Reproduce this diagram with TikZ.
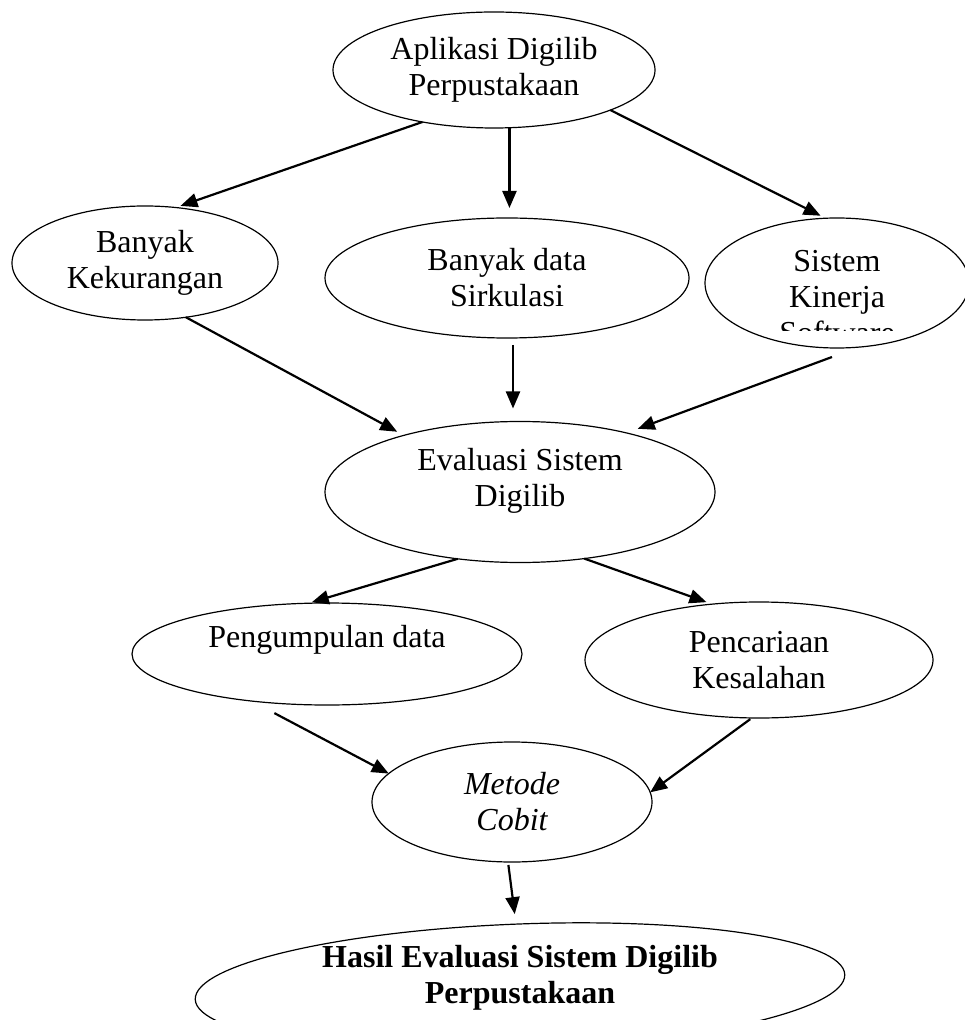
\documentclass[tikz,border=0pt]{standalone}
\usepackage{fontspec}
\setmainfont{Liberation Serif}
\usetikzlibrary{shapes.geometric,arrows.meta}
\begin{document}
\begin{tikzpicture}[x=0.5pt,y=-0.5pt,
  ell/.style={draw, ellipse, line width=0.6pt, inner sep=0pt, outer sep=0pt},
  txt/.style={font=\fontsize{16pt}{18pt}\selectfont, align=center, inner sep=0pt},
  arr/.style={-{Triangle[length=8.5pt,width=7pt]}, line width=1.1pt}]
\useasboundingbox (0,0) rectangle (964,1020);
% ellipses
\node[ell, txt, minimum width=161pt, minimum height=58pt] (A) at (494,70) {Aplikasi Digilib\\Perpustakaan};
\node[ell, txt, minimum width=133pt, minimum height=57pt] (B) at (145,263) {Banyak\\Kekurangan};
\node[ell, txt, minimum width=182pt, minimum height=60pt] (C) at (507,278) {Banyak data\\Sirkulasi};
\node[ell, minimum width=132pt, minimum height=65pt] (D) at (837,283) {};
\node[ell, minimum width=195pt, minimum height=70.5pt] (E) at (520,492) {};
\node[ell, minimum width=195pt, minimum height=51pt] (F) at (327,654) {};
\node[ell, txt, minimum width=174pt, minimum height=58pt] (G) at (759,660) {Pencariaan\\Kesalahan};
\node[ell, txt, font=\fontsize{16pt}{18pt}\selectfont\itshape, minimum width=140pt, minimum height=60pt] (H) at (512,802) {Metode\\Cobit};
\node[ell, rotate=2.2, minimum width=325pt, minimum height=63pt] (I) at (520,987) {};
% texts placed apart from their ellipses
\begin{scope}
  \clip (690,150) rectangle (964,331);
  \node[txt] (Dt) at (837,297) {Sistem\\Kinerja\\Software};
\end{scope}
\node[txt] (Et) at (520,481) {Evaluasi Sistem\\Digilib};
\node[txt] (Ft) at (327,640) {Pengumpulan data};
\node[txt, font=\fontsize{16pt}{18pt}\selectfont\bfseries] (It) at (520,978) {Hasil Evaluasi Sistem Digilib\\Perpustakaan};
% connectors
\draw[arr, shorten >=2.5pt] (A.216) -- (B.61);
\draw[arr, shorten >=5pt] (A.285) -- (A.285 |- C.north);
\draw[arr, shorten >=2.8pt] (A.-19) -- (D.100);
\draw[arr, shorten >=3.8pt] (B.-53) -- (E.154);
\draw[arr, shorten <=3.5pt, shorten >=6.5pt] ([xshift=3pt]C.south) -- ([xshift=3pt]C.south |- E.north);
\draw[arr, shorten >=6pt] ([xshift=-2.5pt,yshift=-4.5pt]D.south) -- (E.29);
\draw[arr, shorten >=1.7pt] (E.227) -- (F.110);
\draw[arr, shorten >=3pt] (E.-46) -- (G.130);
\draw[arr] ([yshift=-5pt]F.223) -- (H.167);
\draw[arr, shorten <=1pt] (G.263) -- (H.4);
\draw[arr, shorten <=1.5pt, shorten >=5pt] ([xshift=-2pt]H.south) -- ([xshift=2pt]H.south |- I.north);
\end{tikzpicture}
\end{document}
